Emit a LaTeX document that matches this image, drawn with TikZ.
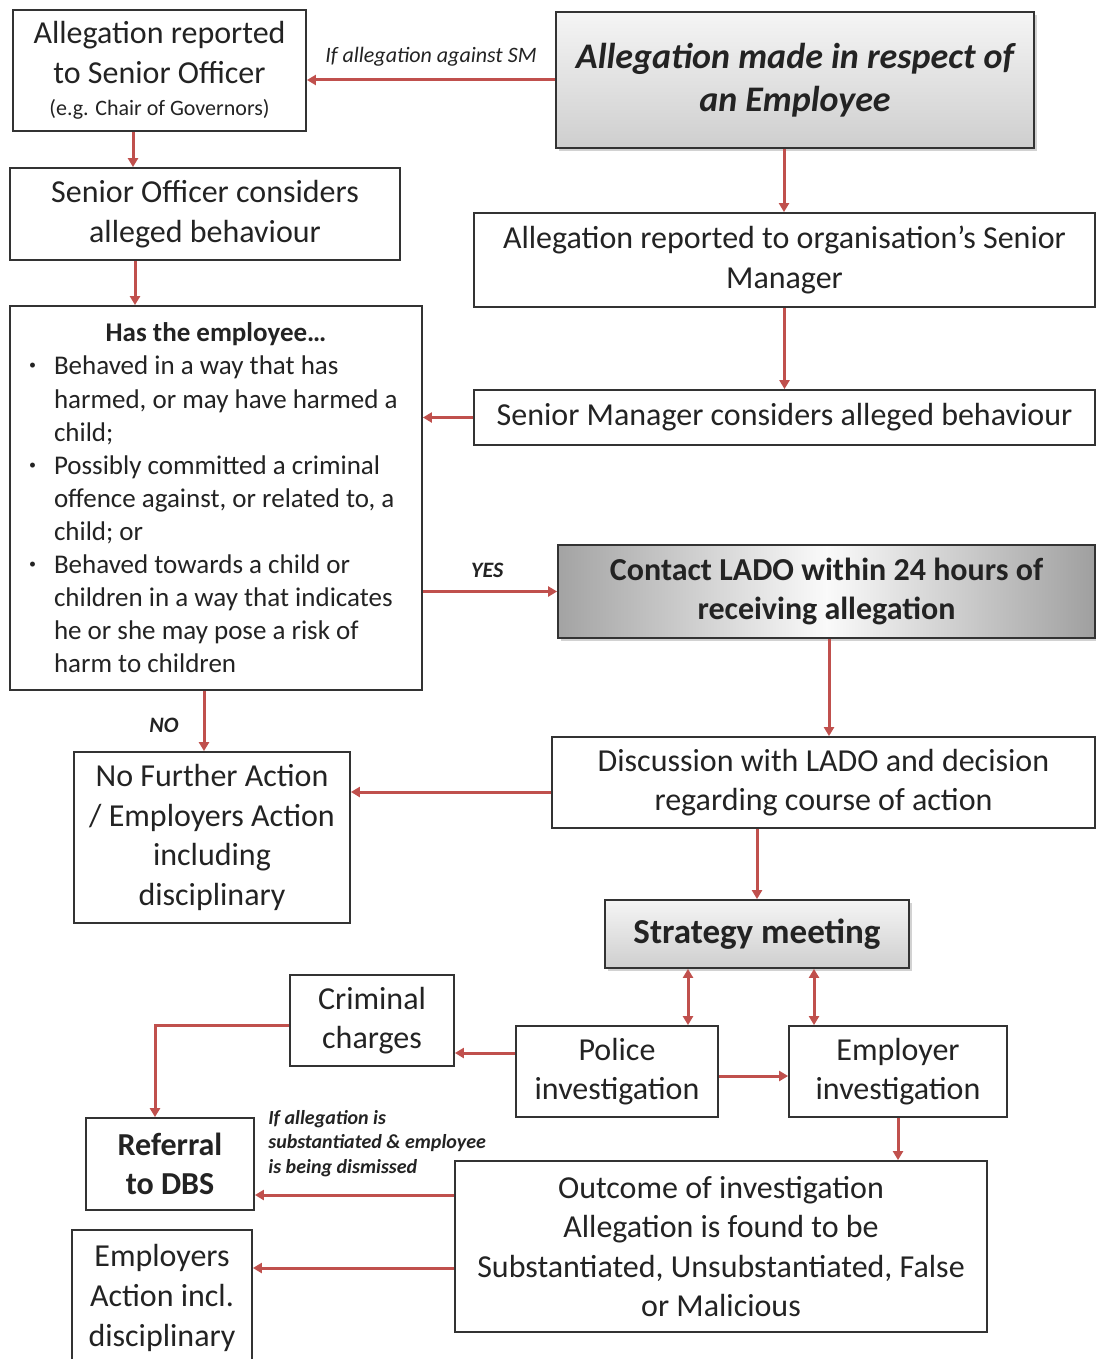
\documentclass[tikz,border=0pt]{standalone}
\usepackage{fontspec}
\setmainfont{Carlito}
\usetikzlibrary{arrows.meta,shadows,calc}
\definecolor{arrred}{RGB}{192,80,77}
\definecolor{txt}{RGB}{35,35,35}
\newcommand{\mybul}{\leavevmode\llap{\raisebox{0.4ex}{\fontsize{7}{7}\selectfont\textbullet}\hspace{9pt}}}
\begin{document}
\begin{tikzpicture}[x=0.5pt,y=-0.5pt,
  box/.style={draw=black!80, line width=0.9pt, fill=white, align=center, text=txt,
    font=\fontsize{16}{19.8}\selectfont, inner sep=0pt},
  graybox/.style={box, top color=gray!8, bottom color=gray!38,
    drop shadow={shadow xshift=1.5pt, shadow yshift=-1.5pt, opacity=0.35}},
  arr/.style={draw=arrred, line width=1.5pt, -{Triangle[length=4.5pt,width=5pt]}},
  arrb/.style={draw=arrred, line width=1.5pt, {Triangle[length=4.5pt,width=5pt]}-{Triangle[length=4.5pt,width=5pt]}},
  lbl/.style={text=txt, inner sep=0pt}
]
\useasboundingbox (0,0) rectangle (1096,1359);
\fill[white] (0,0) rectangle (1096,1359);
\clip (0,0) rectangle (1096,1359);

% boxes
\node[box, minimum width=146.5pt, minimum height=60.5pt] (so) at (159.5,70.5)
  {Allegation reported\\to Senior Officer\\[-3.5pt]{\fontsize{11}{13}\selectfont (e.g. Chair of Governors)}};
\node[graybox, minimum width=239pt, minimum height=68pt,
  font=\fontsize{18}{21.5}\selectfont\bfseries\itshape] (top) at (795,80)
  {Allegation made in respect of\\an Employee};
\node[box, minimum width=195pt, minimum height=46pt] (soc) at (205,214)
  {Senior Officer considers\\alleged behaviour};
\node[box, minimum width=310.5pt, minimum height=47pt] (smr) at (784.5,260)
  {Allegation reported to organisation’s Senior\\Manager};
\node[box, minimum width=206pt, minimum height=192pt] (has) at (216,498)
  {\begin{minipage}{190pt}\fontsize{13.5}{16.55}\selectfont
   \centering\bfseries Has the employee\ldots\par
   \raggedright\mdseries\leftskip=14pt
   \mybul Behaved in a way that has\\
   harmed, or may have harmed a\\
   child;\\
   \mybul Possibly committed a criminal\\
   offence against, or related to, a\\
   child; or\\
   \mybul Behaved towards a child or\\
   children in a way that indicates\\
   he or she may pose a risk of\\
   harm to children\par
   \end{minipage}};
\node[box, minimum width=310.5pt, minimum height=27.5pt] (smc) at (784.5,417.5)
  {Senior Manager considers alleged behaviour};
\node[box, minimum width=268.5pt, minimum height=46.5pt,
  left color=gray!72, right color=gray!75, middle color=gray!4,
  drop shadow={shadow xshift=1.5pt, shadow yshift=-1.5pt, opacity=0.35},
  font=\fontsize{16}{19.8}\selectfont\bfseries] (lado) at (826.5,591.5)
  {Contact LADO within 24 hours of\\receiving allegation};
\node[box, minimum width=271.5pt, minimum height=45.5pt] (disc) at (823.5,782.5)
  {Discussion with LADO and decision\\regarding course of action};
\node[box, minimum width=138pt, minimum height=85.5pt] (nfa) at (212,837.5)
  {No Further Action\\/ Employers Action\\including\\disciplinary};
\node[graybox, minimum width=152pt, minimum height=34pt,
  font=\fontsize{17.5}{20}\selectfont\bfseries] (strat) at (757,934)
  {Strategy meeting};
\node[box, minimum width=82pt, minimum height=45.5pt] (crim) at (372,1020.5)
  {Criminal\\charges};
\node[box, minimum width=101pt, minimum height=45.5pt] (police) at (617,1071.5)
  {Police\\investigation};
\node[box, minimum width=109pt, minimum height=45.5pt] (emp) at (898,1071.5)
  {Employer\\investigation};
\node[box, minimum width=84pt, minimum height=46pt,
  font=\fontsize{16}{19.8}\selectfont\bfseries] (dbs) at (170,1164)
  {Referral\\to DBS};
\node[box, minimum width=266pt, minimum height=85.5pt] (out) at (721,1246.5)
  {Outcome of investigation\\Allegation is found to be\\Substantiated, Unsubstantiated, False\\or Malicious};
\node[box, minimum width=90pt, minimum height=68pt] (ea) at (162,1298)
  {Employers\\Action incl.\\disciplinary};

% connectors
\draw[arr] (top.west) -- (top.west -| so.east)
  node[lbl, pos=0.5, above=6pt, font=\fontsize{11}{13}\selectfont\itshape] (lsm) {If allegation against SM};
\draw[arr] ([xshift=-13.25pt]so.south) -- ([xshift=-13.25pt]so.south |- soc.north);
\draw[arr] ([xshift=-35pt]soc.south) -- ([xshift=-35pt]soc.south |- has.north);
\draw[arr] ([xshift=-5.5pt]top.south) -- ([xshift=-5.5pt]top.south |- smr.north);
\draw[arr] (smr.south) -- (smc.north);
\draw[arr] (smc.west) -- (smc.west -| has.east);
\draw[arr] (has.east |- lado.west) -- (lado.west)
  node[lbl, pos=0.48, above=6pt, font=\fontsize{11}{13}\selectfont\bfseries\itshape] (lyes) {YES};
\draw[arr] ([xshift=-4pt]nfa.north |- has.south) -- ([xshift=-4pt]nfa.north)
  node[lbl, pos=0.58, left=12pt, font=\fontsize{11}{13}\selectfont\bfseries\itshape] (lno) {NO};
\draw[arr] ([xshift=1.25pt]lado.south) -- ([xshift=1.25pt]lado.south |- disc.north);
\draw[arr] ([yshift=-4.75pt]disc.west) -- ([yshift=-4.75pt]disc.west -| nfa.east);
\draw[arr] (strat.north |- disc.south) -- (strat.north);
\draw[arrb] ([xshift=-34.5pt]strat.south) -- ([xshift=-34.5pt]strat.south |- police.north);
\draw[arrb] ([xshift=28.5pt]strat.south) -- ([xshift=28.5pt]strat.south |- emp.north);
\draw[arr] ([yshift=9.25pt]police.west) -- ([yshift=9.25pt]police.west -| crim.east);
\draw[arr] ([yshift=-2.25pt]police.east) -- ([yshift=-2.25pt]police.east -| emp.west);
\draw[arr] ([yshift=-2.25pt]crim.west) -| ([xshift=-7.5pt]dbs.north);
\draw[arr] (emp.south) -- (emp.south |- out.north);
\draw[arr] ([yshift=25.75pt]out.west) -- ([yshift=25.75pt]out.west -| dbs.east);
\draw[arr] ([yshift=-10.75pt]out.west) -- ([yshift=-10.75pt]out.west -| ea.east);
\node[lbl, anchor=north west, align=left, font=\fontsize{10}{12.25}\selectfont\bfseries\itshape]
  (ldbs) at (268,1110) {If allegation is\\substantiated \& employee\\is being dismissed};
\end{tikzpicture}
\end{document}
